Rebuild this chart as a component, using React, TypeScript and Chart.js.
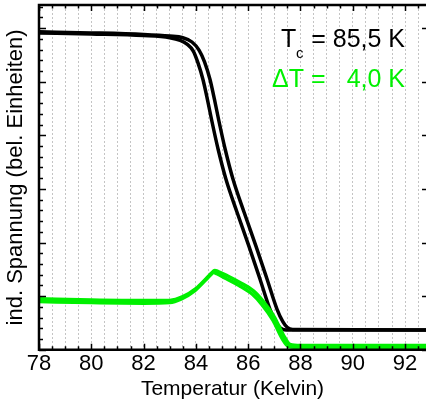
import React, { useEffect, useRef } from 'react';
import { Chart, registerables } from 'chart.js';

Chart.register(...registerables);

// Temperature (K) and induced voltage (arb. units)
const blackA_T = [78.0, 80.0, 82.0, 83.0, 83.4, 83.66, 83.9, 84.08, 84.27, 84.44, 84.6, 84.85, 85.15, 85.57, 86.03, 86.45, 86.83, 87.06, 87.22, 87.45, 92.8];
const blackA_U = [5.91, 5.89, 5.86, 5.82, 5.77, 5.70, 5.57, 5.35, 5.04, 4.67, 4.29, 3.74, 3.18, 2.57, 1.93, 1.32, 0.76, 0.52, 0.41, 0.37, 0.37];
const blackB_T = [78.0, 80.0, 82.0, 83.0, 83.5, 83.85, 84.12, 84.33, 84.54, 84.71, 84.87, 85.12, 85.42, 85.84, 86.3, 86.72, 87.1, 87.33, 87.49, 87.7, 92.8];
const blackB_U = [5.93, 5.91, 5.88, 5.85, 5.82, 5.74, 5.59, 5.37, 5.04, 4.67, 4.29, 3.74, 3.18, 2.57, 1.93, 1.32, 0.76, 0.52, 0.42, 0.38, 0.37];
const greenA_T = [78.0, 80.0, 82.0, 83.0, 83.5, 84.0, 84.4, 84.6, 84.72, 84.85, 85.2, 85.7, 86.2, 86.6, 87.0, 87.35, 87.6, 88.0, 92.8];
const greenA_U = [0.95, 0.93, 0.92, 0.92, 0.99, 1.14, 1.33, 1.43, 1.48, 1.46, 1.38, 1.25, 1.10, 0.89, 0.61, 0.27, 0.10, 0.08, 0.08];
const greenB_T = [78.0, 80.0, 82.0, 83.0, 83.45, 83.95, 84.35, 84.55, 84.68, 84.8, 85.15, 85.65, 86.15, 86.55, 86.95, 87.3, 87.55, 88.0, 92.8];
const greenB_U = [0.90, 0.88, 0.87, 0.88, 0.95, 1.10, 1.29, 1.39, 1.44, 1.42, 1.33, 1.20, 1.04, 0.83, 0.55, 0.21, 0.06, 0.04, 0.04];

const xMin = 78;
const xMax = 92.8;
const yMin = 0;
const yMax = 6.43;
const xTickStep = 0.5;
const xLabelTicks = [78, 80, 82, 84, 86, 88, 90, 92];
const yMinorStep = 0.2;

const tcLabel = ['T', 'c', '= 85,5 K'];
const dtLabel = ['\u0394T =', '4,0 K'];
const xTitle = 'Temperatur (Kelvin)';
const yTitle = 'ind. Spannung (bel. Einheiten)';

const GREEN = '#00f000';
const FONT = '"Liberation Sans", Arial, sans-serif';

function pts(t: number[], u: number[]) {
  return t.map((x, i) => ({ x, y: u[i] }));
}

const framePlugin = {
  id: 'frame',
  afterDraw(chart: any) {
    const { ctx, chartArea: a, scales } = chart;
    const xs = scales.x;
    const ys = scales.y;
    ctx.save();
    ctx.setLineDash([]);
    ctx.strokeStyle = '#000';
    ctx.lineWidth = 1.5;
    for (let v = xMin; v <= xMax + 1e-6; v += xTickStep) {
      const px = Math.round(xs.getPixelForValue(v)) + 0.5;
      const major = xLabelTicks.some((t) => Math.abs(t - v) < 1e-6);
      const len = major ? 6 : 3.5;
      ctx.beginPath();
      ctx.moveTo(px, a.bottom);
      ctx.lineTo(px, a.bottom - len);
      ctx.moveTo(px, a.top);
      ctx.lineTo(px, a.top + len);
      ctx.stroke();
    }
    const n = Math.floor((yMax - yMin) / yMinorStep + 1e-6);
    for (let i = 0; i <= n; i++) {
      const v = yMin + i * yMinorStep;
      const py = Math.round(ys.getPixelForValue(v)) + 0.5;
      const major = i % 5 === 0;
      const len = major ? 7 : 4;
      ctx.beginPath();
      ctx.moveTo(a.left, py);
      ctx.lineTo(a.left + len, py);
      ctx.stroke();
      if (major) {
        ctx.beginPath();
        ctx.moveTo(a.right, py);
        ctx.lineTo(a.right - 4, py);
        ctx.stroke();
      }
    }
    ctx.lineWidth = 2.5;
    ctx.beginPath();
    ctx.moveTo(a.right + 2, a.top);
    ctx.lineTo(a.left, a.top);
    ctx.lineTo(a.left, a.bottom);
    ctx.lineTo(a.right + 2, a.bottom);
    ctx.stroke();

    const rx = a.right - 21;
    ctx.textBaseline = 'alphabetic';
    ctx.fillStyle = '#000';
    ctx.font = '25px ' + FONT;
    ctx.textAlign = 'left';
    ctx.fillText(tcLabel[0], rx - 124, a.top + 42);
    ctx.font = '15px ' + FONT;
    ctx.fillText(tcLabel[1], rx - 109, a.top + 53);
    ctx.font = '25px ' + FONT;
    ctx.textAlign = 'right';
    ctx.fillText(tcLabel[2], rx, a.top + 42);
    ctx.fillStyle = GREEN;
    ctx.textAlign = 'left';
    ctx.fillText(dtLabel[0], rx - 133, a.top + 82);
    ctx.textAlign = 'right';
    ctx.fillText(dtLabel[1], rx, a.top + 82);
    ctx.restore();
  },
};

export default function App() {
  const ref = useRef<HTMLCanvasElement>(null);
  useEffect(() => {
    if (!ref.current) return;
    const line = (data: any, color: string, w: number) => ({
      data,
      showLine: true,
      borderColor: color,
      backgroundColor: color,
      borderWidth: w,
      pointRadius: 0,
      cubicInterpolationMode: 'monotone',
      fill: false,
    });
    const chart = new Chart(ref.current, {
      type: 'scatter',
      data: {
        datasets: [
          line(pts(greenA_T, greenA_U), GREEN, 3.5),
          line(pts(greenB_T, greenB_U), GREEN, 3.5),
          line(pts(blackA_T, blackA_U), '#000', 3.5),
          line(pts(blackB_T, blackB_U), '#000', 3.5),
        ] as any,
      },
      options: {
        animation: false,
        responsive: false,
        devicePixelRatio: 1,
        layout: { padding: { left: 0, top: 5, right: 0, bottom: 2.7 } },
        plugins: { legend: { display: false }, tooltip: { enabled: false } },
        scales: {
          x: {
            type: 'linear',
            min: xMin,
            max: xMax,
            border: { display: false, dash: [2, 2] },
            grid: {
              display: true,
              drawTicks: false,
              color: '#c4c4c4',
              lineWidth: 1,
            },
            ticks: {
              stepSize: xTickStep,
              autoSkip: false,
              maxRotation: 0,
              includeBounds: false,
              padding: 1.2,
              color: '#000',
              font: { family: FONT, size: 22 },
              callback: (v: any) => (xLabelTicks.some((t) => Math.abs(t - v) < 1e-6) ? String(v) : ''),
            },
            title: {
              display: true,
              text: xTitle,
              color: '#000',
              font: { family: FONT, size: 21 },
              padding: { top: -1.5, bottom: 0 },
            },
          },
          y: {
            type: 'linear',
            min: yMin,
            max: yMax,
            border: { display: false },
            grid: { display: false, drawTicks: false },
            ticks: { display: false },
            title: {
              display: true,
              text: yTitle,
              color: '#000',
              font: { family: FONT, size: 22 },
              padding: { top: 2.8, bottom: 9.8 },
            },
          },
        },
      } as any,
      plugins: [framePlugin],
    });
    return () => chart.destroy();
  }, []);
  return (
    <div style={{ position: 'absolute', left: 0, top: 0, width: 426, height: 405, background: '#fff' }}>
      <canvas ref={ref} width={426} height={405} style={{ display: 'block' }} />
    </div>
  );
}
